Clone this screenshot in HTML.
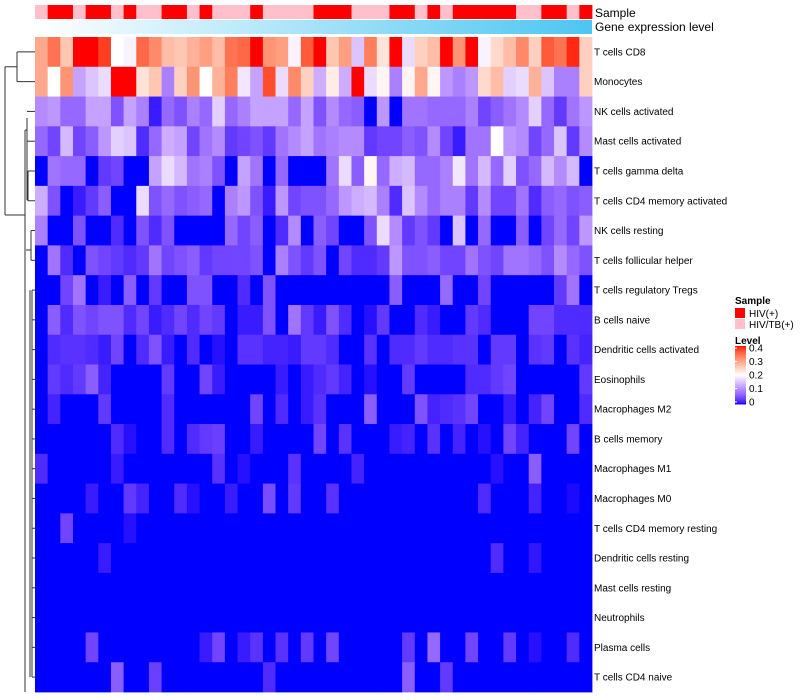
<!DOCTYPE html>
<html><head><meta charset="utf-8">
<style>
html,body{margin:0;padding:0;background:#fff;}
svg{display:block;font-family:"Liberation Sans",sans-serif;}
</style></head>
<body>
<svg id="chart" width="800" height="700" viewBox="0 0 800 700">
<defs>
<linearGradient id="geneGrad" x1="0" x2="1" y1="0" y2="0">
<stop offset="0" stop-color="#ffffff"/><stop offset="1" stop-color="#4cc6f2"/>
</linearGradient>
</defs>
<g id="dendro" stroke="#333" stroke-width="1" fill="none"></g>
<g id="cells"></g>
<g id="anno"></g>
<rect x="35" y="20" width="557" height="14" fill="url(#geneGrad)"/>
<text x="595" y="17" font-size="12">Sample</text>
<text x="595" y="31" font-size="12">Gene expression level</text>
<g id="rowlabels" font-size="10"></g>
<g>
<text x="735" y="304" font-size="10" font-weight="bold">Sample</text>
<rect x="735" y="308" width="10" height="10" fill="#ff0000"/>
<text x="749" y="317" font-size="10">HIV(+)</text>
<rect x="735" y="319" width="10" height="10" fill="#ffc0cb"/>
<text x="749" y="328" font-size="10">HIV/TB(+)</text>
<text x="735" y="344" font-size="10" font-weight="bold">Level</text>
<g id="colorbar"></g>
</g>
</svg>
<script>
const rowNames=["T cells CD8","Monocytes","NK cells activated","Mast cells activated","T cells gamma delta","T cells CD4 memory activated","NK cells resting","T cells follicular helper","T cells regulatory  Tregs","B cells naive","Dendritic cells activated","Eosinophils","Macrophages M2","B cells memory","Macrophages M1","Macrophages M0","T cells CD4 memory resting","Dendritic cells resting","Mast cells resting","Neutrophils","Plasma cells","T cells CD4 naive"];
const sampleGroups="PRRPRRPRPPRRPRPPPRPPPPRRRPPPRRPRPRRRRRPPRRPR".split("");
const r1=[.29,.34,.26,.4,.4,.38,.2,.19,.35,.32,.27,.26,.28,.3,.27,.34,.35,.4,.31,.3,.19,.36,.4,.26,.3,.15,.33,.23,.4,.17,.25,.27,.4,.31,.4,.19,.24,.27,.32,.25,.36,.34,.39,.25];
const r2=[.29,.2,.31,.12,.15,.17,.4,.4,.23,.26,.09,.25,.31,.2,.28,.33,.18,.12,.37,.17,.32,.25,.13,.22,.13,.4,.17,.21,.09,.21,.29,.21,.11,.09,.11,.24,.27,.16,.17,.28,.15,.09,.09,.25];
const r3=[.1,.11,.07,.07,.12,.12,.05,.12,.09,.01,.07,.05,.09,.07,.16,.07,.09,.12,.12,.12,.07,.12,.05,.1,.07,.06,0,.11,0,.08,.08,.07,.07,.07,.09,.04,.06,.08,.1,.16,.07,.03,.08,.11];
const r4=[.07,.04,.14,.04,.06,.11,.16,.15,.02,.07,.13,.12,.04,.08,.1,.03,.04,.05,.03,.08,.1,.12,.08,.09,.1,.1,.03,.04,.04,.06,.05,.1,.04,.01,.08,.08,.2,.11,.1,.04,.07,.15,.03,.1];
const r5=[0,.08,.07,.07,0,.03,.04,0,0,.12,.17,.14,.08,.09,.05,0,.12,.08,0,.07,0,0,0,.08,.17,.06,.21,.07,.13,.14,.07,.07,.09,.18,.08,.14,.07,.16,.05,.07,.14,.1,.14,0];
const r6=[.13,.05,0,.01,.03,.06,0,0,.17,.05,.07,.05,.06,.07,0,.09,.11,.05,.01,.11,.04,.05,.05,.07,.11,.13,.14,.09,.02,.15,.1,.07,.09,.09,.03,.1,.04,.04,.08,.02,.06,.07,.05,.06];
const r7=[.09,0,0,.05,0,0,.02,0,.05,.02,.05,0,0,0,0,.07,.04,.06,0,.02,.1,0,.06,.04,0,0,.05,.17,.1,.03,.05,.03,0,.15,0,.07,0,0,.06,0,.04,.07,.04,.11];
const r8=[0,.08,.02,0,.05,.04,.03,.02,.03,.08,.04,.05,.06,.03,.04,.04,.04,.05,0,.09,.05,.03,.05,0,.04,.02,.02,.03,.11,.05,.05,.06,.04,.04,.08,.05,.04,.08,.08,.07,.05,.1,.07,.05];
const r9=[0,0,.04,.08,0,.01,0,.06,0,.03,0,0,.05,.05,0,0,.02,0,.05,0,0,0,0,0,0,0,0,0,.06,0,0,0,.07,0,0,.04,0,0,0,0,0,.03,.08,0];
const r10=[0,.06,.02,.05,.04,.05,.05,.02,.04,.01,.02,.04,.02,.04,.03,0,.01,.01,.05,0,.08,.03,.01,.05,.02,0,.005,.03,0,0,.02,.01,0,0,.03,.02,0,0,0,.04,.04,.02,.02,.02];
const r11=[0,.02,.025,.025,.02,.01,.04,0,.02,.05,.01,0,.02,0,.005,0,.025,.025,.015,.015,.01,.03,.03,.02,0,0,.025,0,.02,.02,.03,.02,.02,.025,.025,0,.03,.03,0,.025,.03,0,.025,.015];
const r12=[0,.03,.02,.03,.06,.015,0,0,0,0,.03,0,0,.04,.01,0,0,0,0,.01,0,.01,.02,.03,.015,0,.005,0,0,.03,0,0,0,0,.02,.02,.03,.04,0,0,0,0,0,.03];
const r13=[0,.015,0,0,0,.03,0,0,0,0,.02,0,0,0,0,0,0,.04,0,.02,0,.01,.025,0,0,0,.06,0,0,0,.05,.015,.02,.025,.04,0,0,.01,0,.015,.04,0,0,.02];
const r14=[0,0,0,0,0,0,.02,.005,0,0,.02,0,.02,.03,.035,0,0,.01,0,0,0,0,.04,0,.025,0,0,0,.01,.015,0,.025,0,.015,0,.005,0,.04,.015,0,0,0,.04,0];
const r15=[.02,0,0,0,0,0,.01,0,0,0,0,0,0,0,.025,0,.005,0,0,0,.025,0,0,0,0,.015,0,0,0,0,0,0,0,0,0,0,.005,0,0,.06,0,0,0,0];
const r16=[0,0,0,0,.01,0,0,.03,.015,0,0,.02,.005,0,0,.01,0,0,.045,0,.03,0,0,.025,0,0,0,0,0,0,0,0,0,0,0,.02,0,0,0,.015,0,0,.003,0];
const r17=[0,0,.04,0,0,0,0,.005,0,0,0,0,0,0,0,0,0,0,0,0,0,0,0,0,0,0,0,0,0,0,0,0,0,0,0,0,0,0,0,0,0,0,0,0];
const r18=[0,0,0,0,0,.01,0,0,0,0,0,0,0,0,0,0,0,0,0,0,0,0,0,0,0,0,0,0,0,0,0,0,0,0,0,0,.02,0,0,.008,0,0,0,0];
const r19=[0,0,0,0,0,0,0,0,0,0,0,0,0,0,0,0,0,0,0,0,0,0,0,0,0,0,0,0,0,0,0,0,0,0,0,0,0,0,0,0,0,0,0,0];
const r20=[0,0,0,0,0,0,0,0,0,0,0,0,0,0,0,0,0,0,0,0,0,0,0,0,0,0,0,0,0,0,0,0,0,0,0,0,0,0,0,0,0,0,0,0];
const r21=[0,0,0,0,.04,0,0,0,0,0,0,0,0,.01,.04,0,.01,.025,0,.025,0,.03,0,.04,0,0,0,0,0,.03,0,.07,0,0,.04,0,0,.03,0,.005,0,0,.02,0];
const r22=[0,0,0,0,0,0,.06,0,0,.035,0,0,0,0,0,0,0,0,.02,0,0,0,0,0,0,0,0,0,0,.06,0,0,.03,0,0,0,0,0,0,0,0,0,0,0];
const levelTicks=[0,0.1,0.2,0.3,0.4];

const values=[r1,r2,r3,r4,r5,r6,r7,r8,r9,r10,r11,r12,r13,r14,r15,r16,r17,r18,r19,r20,r21,r22];
const NS="http://www.w3.org/2000/svg";
const X0=35,X1=592,Y0=37,Y1=692;
const nCol=sampleGroups.length,nRow=rowNames.length;
const cw=(X1-X0)/nCol,rh=(Y1-Y0)/nRow;
const xPos=i=>X0+i*cw, yPos=j=>Y0+j*rh;

function s2l(c){c/=255;return c<=0.04045?c/12.92:Math.pow((c+0.055)/1.055,2.4);}
function l2s(c){c=c<=0.0031308?12.92*c:1.055*Math.pow(c,1/2.4)-0.055;return Math.max(0,Math.min(255,Math.round(c*255)));}
function toLab(rgb){const r=s2l(rgb[0]),g=s2l(rgb[1]),b=s2l(rgb[2]);
 let x=(r*0.4124+g*0.3576+b*0.1805)/0.95047,y=r*0.2126+g*0.7152+b*0.0722,z=(r*0.0193+g*0.1192+b*0.9505)/1.08883;
 const f=t=>t>0.008856?Math.cbrt(t):7.787*t+16/116;x=f(x);y=f(y);z=f(z);
 return [116*y-16,500*(x-y),200*(y-z)];}
function fromLab(l){let y=(l[0]+16)/116,x=l[1]/500+y,z=y-l[2]/200;
 const fi=t=>t*t*t>0.008856?t*t*t:(t-16/116)/7.787;x=fi(x)*0.95047;y=fi(y);z=fi(z)*1.08883;
 const r=x*3.2406+y*-1.5372+z*-0.4986,g=x*-0.9689+y*1.8758+z*0.0415,b=x*0.0557+y*-0.2040+z*1.0570;
 return `rgb(${l2s(r)},${l2s(g)},${l2s(b)})`;}
const stops=[[0,toLab([0,0,255])],[0.2,toLab([255,255,255])],[0.4,toLab([255,0,0])]];
function colorOf(v){v=Math.max(0,Math.min(0.4,v));const k=v<=0.2?0:1;const a=stops[k],b=stops[k+1];const t=(v-a[0])/(b[0]-a[0]);
 return fromLab([0,1,2].map(i=>a[1][i]+(b[1][i]-a[1][i])*t));}

const cellsG=document.getElementById('cells');
values.forEach((row,j)=>row.forEach((v,i)=>{
 const r=document.createElementNS(NS,'rect');
 r.setAttribute('x',xPos(i));r.setAttribute('y',yPos(j));
 r.setAttribute('width',cw+0.4);r.setAttribute('height',rh+0.4);
 r.setAttribute('fill',colorOf(v));
 
 
 cellsG.appendChild(r);
}));

const annoG=document.getElementById('anno');
sampleGroups.forEach((g,i)=>{
 const r=document.createElementNS(NS,'rect');
 r.setAttribute('x',xPos(i));r.setAttribute('y',5);
 r.setAttribute('width',cw+0.4);r.setAttribute('height',14);
 r.setAttribute('fill',g==='R'?'#ff0000':'#ffc0cb');
 
 
 annoG.appendChild(r);
});

const rlG=document.getElementById('rowlabels');
rowNames.forEach((n,j)=>{
 const t=document.createElementNS(NS,'text');
 t.setAttribute('x',594);t.setAttribute('y',yPos(j)+rh/2+3.5);
 t.textContent=n;
 
 
 rlG.appendChild(t);
});

const cbG=document.getElementById('colorbar');
const cbTop=346,cbBot=404,nSeg=58;
for(let k=0;k<nSeg;k++){
 const v=0.4*(1-(k+0.5)/nSeg);
 const r=document.createElementNS(NS,'rect');
 r.setAttribute('x',735);r.setAttribute('y',cbTop+k*(cbBot-cbTop)/nSeg);
 r.setAttribute('width',11);r.setAttribute('height',(cbBot-cbTop)/nSeg+0.5);
 r.setAttribute('fill',colorOf(v));
 
 
 cbG.appendChild(r);
}
levelTicks.forEach(v=>{
 const y=cbBot-2-(v/0.4)*(cbBot-cbTop-4);
 const t=document.createElementNS(NS,'text');
 t.setAttribute('x',749);t.setAttribute('y',y+3.5);t.setAttribute('font-size',10);
 t.textContent=v===0?'0':String(v);
 
 
 cbG.appendChild(t);
 const l=document.createElementNS(NS,'line');
 l.setAttribute('x1',735);l.setAttribute('x2',737);l.setAttribute('y1',y);l.setAttribute('y2',y);
 l.setAttribute('stroke','#fff');
 
 
 cbG.appendChild(l);
});

const dg=document.getElementById('dendro');
const cy=j=>yPos(j)+rh/2;
function dline(x1,y1,x2,y2){const l=document.createElementNS(NS,'line');
 l.setAttribute('x1',x1);l.setAttribute('y1',y1);l.setAttribute('x2',x2);l.setAttribute('y2',y2);
 
 
 dg.appendChild(l);}
dline(17,cy(0),35,cy(0));dline(17,cy(1),35,cy(1));dline(17,cy(0),17,cy(1));
const topMid=(cy(0)+cy(1))/2;
dline(5,topMid,17,topMid);
const lowJoin=215;
dline(5,topMid,5,lowJoin);dline(5,lowJoin,25,lowJoin);
dline(25,130,25,692);
dline(25,130,27,130);dline(27,118,27,200);dline(27,cy(2),35,cy(2));dline(27,cy(3),35,cy(3));
dline(27,200,28,200);dline(28,cy(4),35,cy(4));dline(28,cy(4),28,cy(5));dline(28,cy(5),35,cy(5));
dline(26,250,31,250);dline(31,cy(6),35,cy(6));dline(31,cy(6),31,cy(7));dline(31,cy(7),35,cy(7));
for(let j=8;j<nRow;j++){dline(32,cy(j),35,cy(j));}
dline(32,cy(8),32,cy(21));
dline(30,cy(8),30,cy(21));
</script>
</body></html>
